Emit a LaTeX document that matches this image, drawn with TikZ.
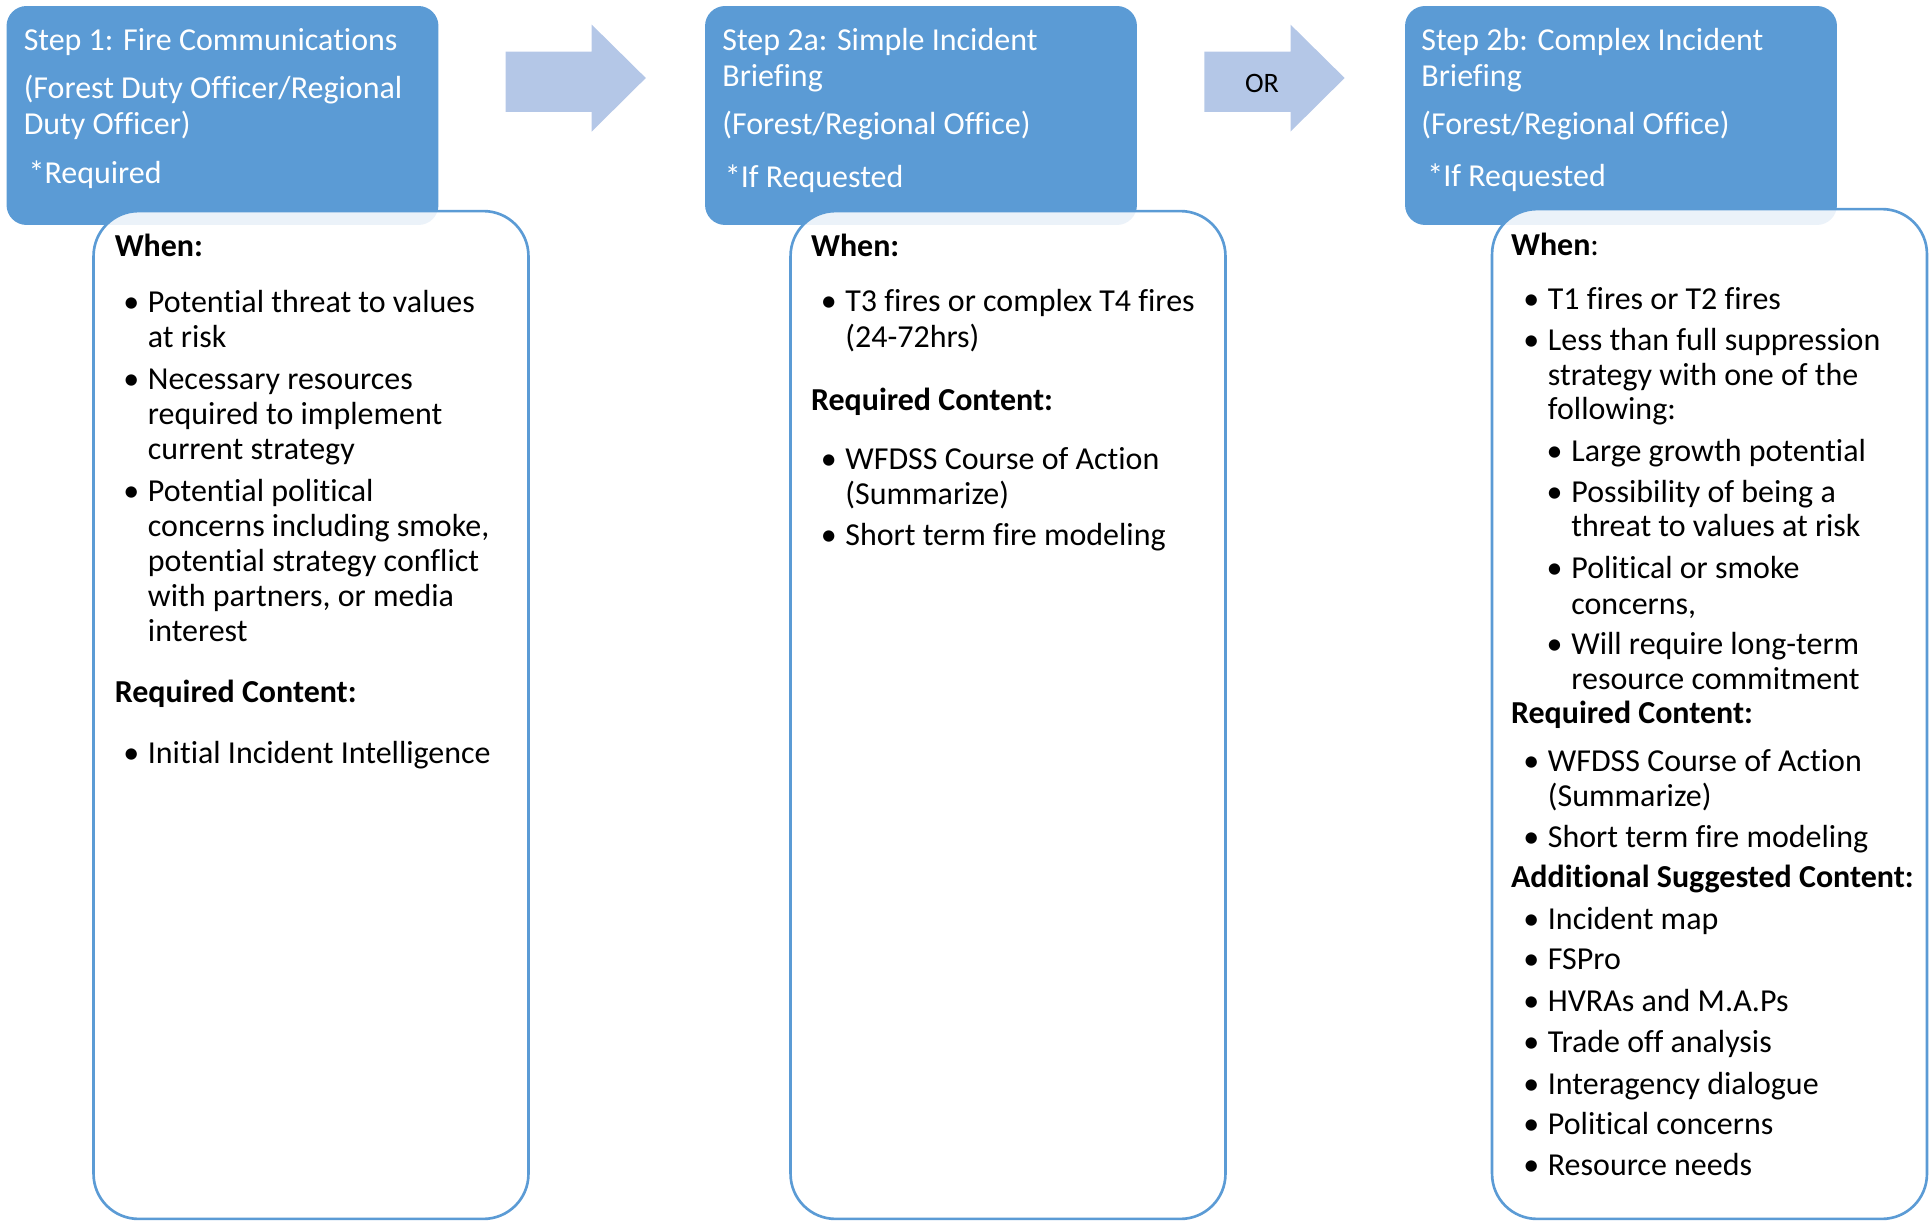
\documentclass[tikz,border=0pt]{standalone}
\usepackage{fontspec}
\setmainfont[Ligatures={NoCommon}]{Carlito}
\usepackage{tikz}
\definecolor{headblue}{HTML}{5B9BD5}
\definecolor{arrowblue}{HTML}{B4C7E7}

\begin{document}
\begin{tikzpicture}[x=0.02cm, y=-0.02cm,
		head_style/.style={rectangle,rounded corners=0.4cm,fill=headblue,minimum width=8.64cm,minimum height=4.38cm,inner sep=0pt},
		box_style/.style={rectangle,rounded corners=0.9cm,draw=headblue,line width=1.5pt,fill=white,fill opacity=0.88,minimum width=8.7cm,minimum height=20.16cm,inner sep=0pt},
		arrow_style/.style={fill=arrowblue},
		head_text/.style={anchor=base west,inner sep=0pt,yshift=-1.4pt,text=white,font=\fontsize{18.2}{21}\selectfont},
		body_text/.style={anchor=base west,inner sep=0pt,yshift=-1.4pt,font=\fontsize{18.2}{21}\selectfont},
		bold_text/.style={body_text,font=\fontsize{18.2}{21}\selectfont\bfseries},
		item_style/.style={body_text,xshift=-2.3pt,execute at begin node={\makebox[14pt][l]{\textbullet}}}]
		
		\useasboundingbox (0,0) rectangle (1929,1222);
		
		% header boxes
		\node[head_style] (hdr1) at (222.5,115.5) {};
		\node[head_style] (hdr2) at (921,115.5) {};
		\node[head_style] (hdr3) at (1621,115.5) {};
		
		% block arrows
		\path[arrow_style] (505.6,51.7) -- (591.7,51.7) -- (591.7,24.6) -- (645.8,78) -- (591.7,131.6) -- (591.7,112) -- (505.6,112) -- cycle;
		\path[arrow_style] (1204.4,51.7) -- (1290.5,51.7) -- (1290.5,24.6) -- (1344.6,78) -- (1290.5,131.6) -- (1290.5,112) -- (1204.4,112) -- cycle;
		\node[anchor=center,inner sep=0pt,font=\fontsize{16}{19}\selectfont] (or) at (1262,83.7) {OR};
		
		% content boxes
		\node[box_style] (box1) at (311,715) {};
		\node[box_style] (box2) at (1008,715) {};
		\node[box_style,minimum height=20.2cm] (box3) at (1709.5,714) {};
		
		% step 1
		\node[head_text] (h1a) at (23.4,48.4) {Step 1: Fire Communications};
		\node[head_text] (h1b) at (23.4,96.3) {(Forest Duty Officer/Regional};
		\node[head_text] (h1c) at (23.4,132) {Duty Officer)};
		\node[head_text] (h1d) at (28.3,181) {*Required};
		
		\node[bold_text] (c1w) at (114.4,253.8) {When:};
		\node[item_style] (c1i1) at (127,310.4) {Potential threat to values};
		\node[body_text] (c1i1b) at (147.6,344.8) {at risk};
		\node[item_style] (c1i2) at (127,386.7) {Necessary resources};
		\node[body_text] (c1i2b) at (147.6,422.3) {required to implement};
		\node[body_text] (c1i2c) at (147.6,456.8) {current strategy};
		\node[item_style] (c1i3) at (127,498.6) {Potential political};
		\node[body_text] (c1i3b) at (147.6,534.3) {concerns including smoke,};
		\node[body_text] (c1i3c) at (147.6,568.7) {potential strategy conflict};
		\node[body_text] (c1i3d) at (147.6,604.4) {with partners, or media};
		\node[body_text] (c1i3e) at (147.6,638.9) {interest};
		\node[bold_text] (c1r) at (114.4,700.4) {Required Content:};
		\node[item_style] (c1r1) at (127,760.7) {Initial Incident Intelligence};
		
		% step 2a
		\node[head_text] (h2a) at (722,48.4) {Step 2a: Simple Incident};
		\node[head_text] (h2b) at (722,84) {Briefing};
		\node[head_text] (h2c) at (722,132) {(Forest/Regional Office)};
		\node[head_text] (h2d) at (724.6,185) {*If Requested};
		
		\node[bold_text] (c2w) at (810.7,253.8) {When:};
		\node[item_style] (c2i1) at (824.5,309.2) {T3 fires or complex T4 fires};
		\node[body_text] (c2i1b) at (845.1,344.8) {(24-72hrs)};
		\node[bold_text] (c2r) at (810.7,407.6) {Required Content:};
		\node[item_style] (c2r1) at (824.5,466.6) {WFDSS Course of Action};
		\node[body_text] (c2r1b) at (845.1,502.3) {(Summarize)};
		\node[item_style] (c2r2) at (824.5,542.9) {Short term fire modeling};
		
		% step 2b
		\node[head_text] (h3a) at (1421,48.4) {Step 2b: Complex Incident};
		\node[head_text] (h3b) at (1421,84) {Briefing};
		\node[head_text] (h3c) at (1421,132) {(Forest/Regional Office)};
		\node[head_text] (h3d) at (1427,183.7) {*If Requested};
		
		\node[body_text] (c3w) at (1510.7,252.6) {\textbf{When}:};
		\node[item_style] (c3i1) at (1527,306.7) {T1 fires or T2 fires};
		\node[item_style] (c3i2) at (1527,348.5) {Less than full suppression};
		\node[body_text] (c3i2b) at (1547.6,383) {strategy with one of the};
		\node[body_text] (c3i2c) at (1547.6,417.4) {following:};
		\node[item_style] (c3s1) at (1550.4,459.3) {Large growth potential};
		\node[item_style] (c3s2) at (1550.4,499.9) {Possibility of being a};
		\node[body_text] (c3s2b) at (1571,534.3) {threat to values at risk};
		\node[item_style] (c3s3) at (1550.4,576.1) {Political or smoke};
		\node[body_text] (c3s3b) at (1571,611.8) {concerns,};
		\node[item_style] (c3s4) at (1550.4,652.4) {Will require long-term};
		\node[body_text] (c3s4b) at (1571,686.8) {resource commitment};
		\node[bold_text] (c3r) at (1510.7,721.3) {Required Content:};
		\node[item_style] (c3r1) at (1527,769.3) {WFDSS Course of Action};
		\node[body_text] (c3r1b) at (1547.6,803.7) {(Summarize)};
		\node[item_style] (c3r2) at (1527,845.5) {Short term fire modeling};
		\node[bold_text] (c3a) at (1510.7,884.9) {Additional Suggested Content:};
		\node[item_style] (c3a1) at (1527,926.7) {Incident map};
		\node[item_style] (c3a2) at (1527,967.3) {FSPro};
		\node[item_style] (c3a3) at (1527,1009.2) {HVRAs and M.A.Ps};
		\node[item_style] (c3a4) at (1527,1049.7) {Trade off analysis};
		\node[item_style] (c3a5) at (1527,1091.6) {Interagency dialogue};
		\node[item_style] (c3a6) at (1527,1132.2) {Political concerns};
		\node[item_style] (c3a7) at (1527,1172.8) {Resource needs};
		
		\end{tikzpicture}
\end{document}
